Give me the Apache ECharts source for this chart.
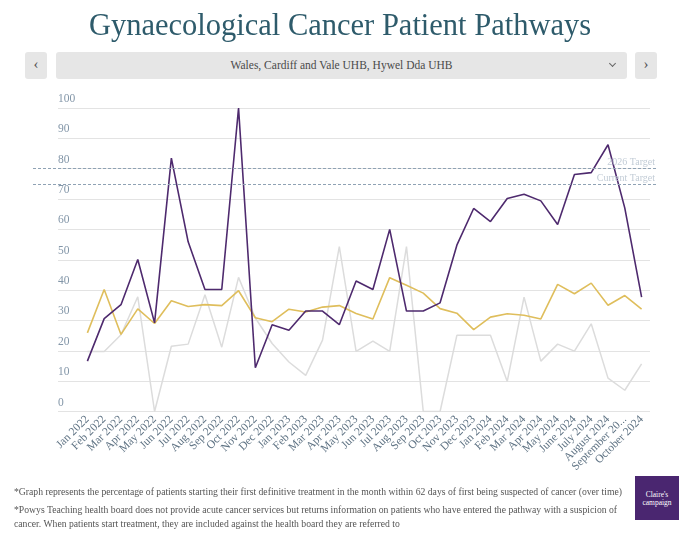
<!DOCTYPE html>
<html>
<head>
<meta charset="utf-8">
<script src="https://cdn.jsdelivr.net/npm/echarts@6/dist/echarts.min.js"></script>
<style>
  html, body { margin: 0; padding: 0; background: #fff; }
  #wrap { position: relative; width: 680px; height: 535px; overflow: hidden; font-family: "Liberation Serif", "DejaVu Serif", serif; }
  #chart { position: absolute; left: 0; top: 0; width: 680px; height: 535px; }
  .btn { position: absolute; top: 52px; height: 27px; background: #e6e6e6; border-radius: 3px; color: #555; font-size: 15px; line-height: 25px; text-align: center; }
  #prev { left: 25px; width: 22px; }
  #next { left: 635px; width: 22px; }
  #select { left: 56px; width: 571px; font-size: 11.5px; line-height: 27px; color: #4a4a4a; }
  #select .chev { position: absolute; right: 12px; top: 9px; width: 4px; height: 4px; border-right: 1.2px solid #666; border-bottom: 1.2px solid #666; transform: rotate(45deg); }
  .note { position: absolute; left: 14px; font-size: 9.7px; color: #555; line-height: 14px; }
  #logo { position: absolute; left: 635px; top: 476px; width: 44px; height: 44px; background: #4a2670; color: #fff; font-size: 7.5px; line-height: 7.5px; text-align: center; box-sizing: border-box; padding-top: 15px; }
</style>
</head>
<body>
<div id="wrap">
  <div id="chart"></div>
  <div class="btn" id="prev">&#8249;</div>
  <div class="btn" id="select">Wales, Cardiff and Vale UHB, Hywel Dda UHB<span class="chev"></span></div>
  <div class="btn" id="next">&#8250;</div>
  <div class="note" style="top:485px;">*Graph represents the percentage of patients starting their first definitive treatment in the month within 62 days of first being suspected of cancer (over time)</div>
  <div class="note" style="top:503px;">*Powys Teaching health board does not provide acute cancer services but returns information on patients who have entered the pathway with a suspicion of<br>cancer. When patients start treatment, they are included against the health board they are referred to</div>
  <div id="logo">Claire's<br>campaign</div>
</div>
<script>
// months shown on the x axis
const months = [
  "Jan 2022", "Feb 2022", "Mar 2022", "Apr 2022", "May 2022", "Jun 2022",
  "Jul 2022", "Aug 2022", "Sep 2022", "Oct 2022", "Nov 2022", "Dec 2022",
  "Jan 2023", "Feb 2023", "Mar 2023", "Apr 2023", "May 2023", "Jun 2023",
  "Jul 2023", "Aug 2023", "Sep 2023", "Oct 2023", "Nov 2023", "Dec 2023",
  "Jan 2024", "Feb 2024", "Mar 2024", "Apr 2024", "May 2024", "June 2024",
  "July 2024", "August 2024", "September 2024", "October 2024"
];

// % starting treatment within 62 days
const wales = [
  25.9, 40.2, 25.4, 33.8, 29.0, 36.5, 34.6, 35.2, 34.9, 39.8, 30.9, 29.6,
  33.7, 32.8, 34.4, 34.9, 32.3, 30.5, 44.1, 41.6, 39.0, 33.9, 32.4, 27.0,
  31.1, 32.2, 31.7, 30.5, 41.9, 38.8, 42.3, 35.0, 38.2, 33.7
];
const cardiffVale = [
  16.6, 30.6, 35.2, 50.1, 29.2, 83.5, 55.9, 40.2, 40.2, 100, 14.4, 28.6,
  26.8, 33.1, 33.1, 28.6, 43.0, 40.2, 60.0, 33.1, 33.1, 35.8, 54.8, 66.9,
  62.6, 70.2, 71.6, 69.4, 61.6, 78.1, 78.7, 87.9, 67.0, 37.7
];
const hywelDda = [
  19.8, 19.8, 25.3, 37.8, 0, 21.5, 22.2, 38.5, 21.2, 44.2, 30.8, 22.4,
  16.3, 11.9, 23.5, 54.3, 19.8, 23.2, 19.8, 54.3, 0, 0, 25.1, 25.1,
  25.1, 9.9, 37.7, 16.6, 22.2, 19.9, 28.9, 11.0, 7.0, 15.7
];

const targetValues = [80, 75];
const targetNames = ["2026 Target", "Current Target"];
const yTicks = [0, 100, 10];

const serif = "Liberation Serif";
const chart = echarts.init(document.getElementById("chart"));

const gTop = 108, gBottom = 123.5;

chart.setOption({
  animation: false,
  title: {
    text: "Gynaecological Cancer Patient Pathways",
    left: "center",
    top: 6,
    textStyle: { fontFamily: serif, fontWeight: "normal", fontSize: 30.5, color: "#2e5b6b" }
  },
  grid: [
    { left: 58, right: 30, top: gTop, bottom: gBottom },   // gridlines + y labels
    { left: 79, right: 30, top: gTop, bottom: gBottom },   // data
    { left: 33, right: 22, top: gTop, bottom: gBottom }    // target lines
  ],
  xAxis: [
    { gridIndex: 0, type: "category", data: months, show: false },
    {
      gridIndex: 1, type: "category", data: months, boundaryGap: true,
      axisLine: { show: false }, axisTick: { show: false },
      axisLabel: {
        interval: 0, rotate: 45, margin: 6,
        fontFamily: serif, fontSize: 11.5, color: "#5f7384",
        formatter: function (s) { return s.length > 12 ? s.slice(0, 12) + "..." : s; }
      }
    },
    { gridIndex: 2, type: "category", data: months, show: false }
  ],
  yAxis: [
    {
      gridIndex: 0, type: "value", min: yTicks[0], max: yTicks[1], interval: yTicks[2],
      axisLine: { show: false }, axisTick: { show: false },
      splitLine: { lineStyle: { color: "#e3e3e3", width: 1 } },
      axisLabel: {
        inside: true, margin: 0, align: "left", verticalAlign: "bottom",
        padding: [0, 0, 3, 0],
        fontFamily: serif, fontSize: 11.5, color: "#8396a8"
      }
    },
    { gridIndex: 1, type: "value", min: 0, max: 100, show: false },
    { gridIndex: 2, type: "value", min: 0, max: 100, show: false }
  ],
  series: [
    {
      name: "Hywel Dda UHB", type: "line", xAxisIndex: 1, yAxisIndex: 1,
      data: hywelDda, symbol: "none", lineStyle: { color: "#dcdcdc", width: 1.5 }
    },
    {
      name: "Wales", type: "line", xAxisIndex: 1, yAxisIndex: 1,
      data: wales, symbol: "none", lineStyle: { color: "#dfbe5c", width: 1.6 }
    },
    {
      name: "Cardiff and Vale UHB", type: "line", xAxisIndex: 1, yAxisIndex: 1,
      data: cardiffVale, symbol: "none", lineStyle: { color: "#4e2a6e", width: 1.6 }
    },
    {
      name: "Targets", type: "line", xAxisIndex: 2, yAxisIndex: 2, data: [],
      markLine: {
        silent: true, symbol: "none",
        lineStyle: { type: [3, 2], color: "#8fa2b4", width: 1.1 },
        label: {
          position: "insideEndTop", distance: [3, 1],
          fontFamily: serif, fontSize: 10, color: "#c2ccd6",
          formatter: function (p) { return p.name; }
        },
        data: targetValues.map(function (v, i) { return { yAxis: v, name: targetNames[i] }; })
      }
    }
  ]
});
</script>
</body>
</html>
